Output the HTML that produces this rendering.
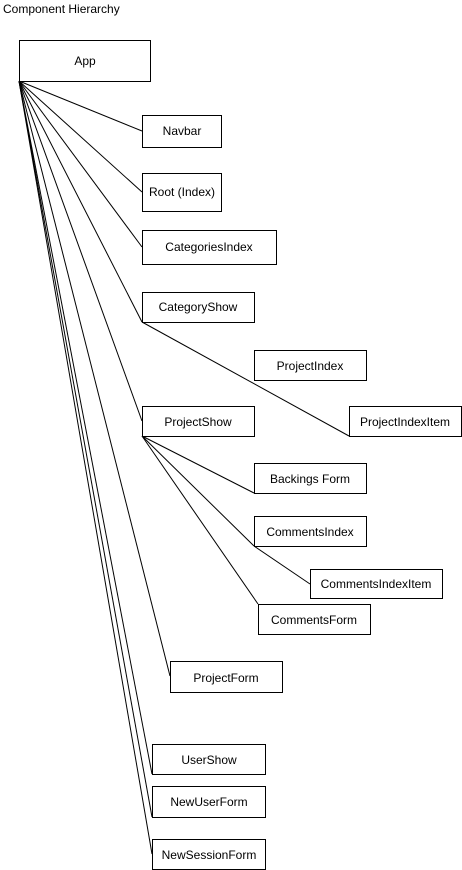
<!DOCTYPE html>
<html><head><style>
body{margin:0;width:462px;height:870px;background:#fff;overflow:hidden}
svg{display:block}
text{font-family:"Liberation Sans",Arial,sans-serif;font-size:12px;fill:#000}
rect{fill:#fff;stroke:#000;stroke-width:1}
line{stroke:#000;stroke-width:1}
</style></head><body>
<svg width="462" height="870" xmlns="http://www.w3.org/2000/svg">
<text x="3" y="13">Component Hierarchy</text>
<g>
<line x1="19" y1="81" x2="142" y2="131"/>
<line x1="19" y1="81" x2="142" y2="192" stroke-width="0.6"/>
<line x1="19" y1="81" x2="142" y2="247"/>
<line x1="19" y1="81" x2="142" y2="322"/>
<line x1="19" y1="81" x2="142" y2="421"/>
<line x1="19" y1="81" x2="170" y2="676"/>
<line x1="19" y1="81" x2="152" y2="774"/>
<line x1="19" y1="81" x2="152" y2="817"/>
<line x1="19" y1="81" x2="152" y2="854"/>
<line x1="142" y1="322" x2="349" y2="436"/>
<line x1="142" y1="436" x2="254" y2="493"/>
<line x1="142" y1="436" x2="254" y2="546"/>
<line x1="142" y1="436" x2="258" y2="604"/>
<line x1="254" y1="546" x2="310" y2="584"/>
</g>
<rect x="19.5" y="40.5" width="131" height="41"/><text x="85" y="65" text-anchor="middle">App</text>
<rect x="142.5" y="115.5" width="79" height="32"/><text x="182" y="135" text-anchor="middle">Navbar</text>
<rect x="142.5" y="173.5" width="79" height="38"/><text x="182" y="196" text-anchor="middle">Root (Index)</text>
<rect x="142.5" y="230.5" width="134" height="34"/><text x="209" y="251" text-anchor="middle">CategoriesIndex</text>
<rect x="142.5" y="292.5" width="112" height="30"/><text x="198" y="311" text-anchor="middle">CategoryShow</text>
<rect x="254.5" y="350.5" width="112" height="30"/><text x="310" y="370" text-anchor="middle">ProjectIndex</text>
<rect x="349.5" y="406.5" width="112" height="30"/><text x="405" y="426" text-anchor="middle">ProjectIndexItem</text>
<rect x="142.5" y="406.5" width="112" height="30"/><text x="198" y="426" text-anchor="middle">ProjectShow</text>
<rect x="254.5" y="463.5" width="112" height="30"/><text x="310" y="483" text-anchor="middle">Backings Form</text>
<rect x="254.5" y="516.5" width="112" height="30"/><text x="310" y="536" text-anchor="middle">CommentsIndex</text>
<rect x="310.5" y="569.5" width="132" height="29"/><text x="376" y="588" text-anchor="middle">CommentsIndexItem</text>
<rect x="258.5" y="604.5" width="112" height="30"/><text x="314" y="624" text-anchor="middle">CommentsForm</text>
<rect x="170.5" y="661.5" width="112" height="31"/><text x="226" y="682" text-anchor="middle">ProjectForm</text>
<rect x="152.5" y="744.5" width="113" height="30"/><text x="209" y="764" text-anchor="middle">UserShow</text>
<rect x="152.5" y="786.5" width="113" height="31"/><text x="209" y="806" text-anchor="middle">NewUserForm</text>
<rect x="152.5" y="839.5" width="113" height="30"/><text x="209" y="859" text-anchor="middle">NewSessionForm</text>
</svg>
</body></html>
